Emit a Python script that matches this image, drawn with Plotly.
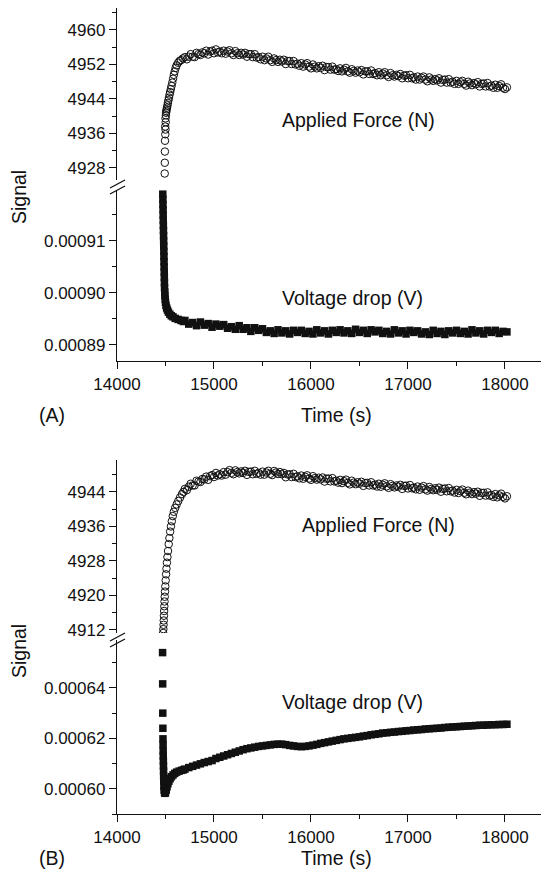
import plotly.graph_objects as go

# ---------------- data ----------------
# regular sampling after the initial transient (s): force every 20 s, voltage every 40 s
force_tail_time = [14700, 14720, 14740, 14760, 14780, 14800, 14820, 14840, 14860, 14880,
                   14900, 14920, 14940, 14960, 14980, 15000, 15020, 15040, 15060, 15080,
                   15100, 15120, 15140, 15160, 15180, 15200, 15220, 15240, 15260, 15280,
                   15300, 15320, 15340, 15360, 15380, 15400, 15420, 15440, 15460, 15480,
                   15500, 15520, 15540, 15560, 15580, 15600, 15620, 15640, 15660, 15680,
                   15700, 15720, 15740, 15760, 15780, 15800, 15820, 15840, 15860, 15880,
                   15900, 15920, 15940, 15960, 15980, 16000, 16020, 16040, 16060, 16080,
                   16100, 16120, 16140, 16160, 16180, 16200, 16220, 16240, 16260, 16280,
                   16300, 16320, 16340, 16360, 16380, 16400, 16420, 16440, 16460, 16480,
                   16500, 16520, 16540, 16560, 16580, 16600, 16620, 16640, 16660, 16680,
                   16700, 16720, 16740, 16760, 16780, 16800, 16820, 16840, 16860, 16880,
                   16900, 16920, 16940, 16960, 16980, 17000, 17020, 17040, 17060, 17080,
                   17100, 17120, 17140, 17160, 17180, 17200, 17220, 17240, 17260, 17280,
                   17300, 17320, 17340, 17360, 17380, 17400, 17420, 17440, 17460, 17480,
                   17500, 17520, 17540, 17560, 17580, 17600, 17620, 17640, 17660, 17680,
                   17700, 17720, 17740, 17760, 17780, 17800, 17820, 17840, 17860, 17880,
                   17900, 17920, 17940, 17960, 17980, 18000, 18020]
volt_tail_time = [14700, 14740, 14780, 14820, 14860, 14900, 14940, 14980, 15020, 15060,
                  15100, 15140, 15180, 15220, 15260, 15300, 15340, 15380, 15420, 15460,
                  15500, 15540, 15580, 15620, 15660, 15700, 15740, 15780, 15820, 15860,
                  15900, 15940, 15980, 16020, 16060, 16100, 16140, 16180, 16220, 16260,
                  16300, 16340, 16380, 16420, 16460, 16500, 16540, 16580, 16620, 16660,
                  16700, 16740, 16780, 16820, 16860, 16900, 16940, 16980, 17020, 17060,
                  17100, 17140, 17180, 17220, 17260, 17300, 17340, 17380, 17420, 17460,
                  17500, 17540, 17580, 17620, 17660, 17700, 17740, 17780, 17820, 17860,
                  17900, 17940, 17980, 18020]

# ---- Panel A: applied force (N) ----
force_a_start_t = [14492, 14493, 14494, 14495, 14498, 14500, 14497, 14502, 14500, 14504, 14506, 14509,
                   14512, 14516, 14520, 14525, 14530, 14536, 14542, 14548, 14555, 14562, 14570, 14578,
                   14586, 14595, 14605, 14615, 14630, 14645, 14660, 14680]
force_a_start = [4926.7, 4929.2, 4931.8, 4934.3, 4935.8, 4936.9, 4937.6, 4938.6, 4939.5, 4940.2, 4940.8, 4941.2,
                 4941.6, 4942.0, 4942.5, 4943.1, 4943.7, 4944.3, 4945.0, 4945.6, 4946.3, 4947.0, 4947.8, 4948.7,
                 4949.6, 4950.4, 4951.2, 4951.8, 4952.4, 4952.8, 4953.0, 4953.4]
force_a_tail = [4953.7, 4953.2, 4953.8, 4954.4, 4953.8, 4953.7, 4954.7, 4954.4, 4954.2, 4954.8,
                4954.6, 4955.2, 4954.3, 4955.0, 4955.2, 4954.6, 4955.5, 4954.8, 4955.0, 4954.6,
                4955.2, 4954.5, 4955.0, 4955.3, 4954.6, 4954.2, 4955.1, 4954.6, 4954.2, 4954.7,
                4954.3, 4954.7, 4953.8, 4954.4, 4954.4, 4953.7, 4954.4, 4953.6, 4953.7, 4953.2,
                4953.8, 4953.0, 4953.4, 4953.8, 4953.0, 4952.6, 4953.4, 4953.0, 4952.6, 4953.1,
                4952.7, 4953.1, 4952.1, 4952.8, 4952.8, 4952.1, 4952.8, 4952.0, 4952.2, 4951.7,
                4952.3, 4951.5, 4952.0, 4952.3, 4951.5, 4951.1, 4952.0, 4951.5, 4951.1, 4951.6,
                4951.2, 4951.7, 4950.7, 4951.4, 4951.4, 4950.8, 4951.5, 4950.8, 4950.9, 4950.5,
                4951.1, 4950.4, 4950.8, 4951.2, 4950.4, 4950.1, 4950.9, 4950.5, 4950.1, 4950.6,
                4950.2, 4950.7, 4949.7, 4950.4, 4950.4, 4949.8, 4950.6, 4949.8, 4950.0, 4949.5,
                4950.2, 4949.5, 4949.9, 4950.2, 4949.5, 4949.1, 4950.0, 4949.5, 4949.2, 4949.6,
                4949.3, 4949.8, 4948.8, 4949.4, 4949.5, 4948.8, 4949.6, 4948.8, 4949.0, 4948.5,
                4949.2, 4948.5, 4948.9, 4949.2, 4948.5, 4948.1, 4949.0, 4948.5, 4948.2, 4948.6,
                4948.3, 4948.8, 4947.8, 4948.4, 4948.5, 4947.8, 4948.6, 4947.8, 4948.0, 4947.5,
                4948.2, 4947.5, 4947.9, 4948.2, 4947.5, 4947.1, 4948.0, 4947.6, 4947.2, 4947.7,
                4947.4, 4947.9, 4946.9, 4947.5, 4947.6, 4946.9, 4947.7, 4946.9, 4947.1, 4946.6,
                4947.3, 4946.6, 4947.0, 4947.4, 4946.6, 4946.3, 4946.7]

# ---- Panel A: voltage drop (V) ----
volt_a_start_t = [14472, 14473, 14474, 14475, 14476, 14477, 14478, 14479, 14480, 14481, 14482, 14483,
                  14484, 14485, 14486, 14487, 14488, 14489, 14490, 14492, 14494, 14497, 14500, 14505,
                  14512, 14520, 14530, 14545, 14560, 14577, 14600, 14630, 14660, 14685]
volt_a_start = [0.0009190, 0.0009180, 0.0009170, 0.0009160, 0.0009150, 0.0009140, 0.0009130, 0.0009120,
                0.0009110, 0.0009100, 0.0009090, 0.0009080, 0.0009070, 0.0009060, 0.0009050, 0.0009040,
                0.0009030, 0.0009020, 0.0009010, 0.0009002, 0.0008995, 0.0008988, 0.0008982, 0.0008976,
                0.0008971, 0.0008967, 0.0008963, 0.0008959, 0.0008956, 0.0008954, 0.0008951, 0.0008949,
                0.0008947, 0.0008945]
volt_a_tail = [0.0008947, 0.0008940, 0.0008943, 0.0008937, 0.0008944, 0.0008938, 0.0008941, 0.0008934, 0.0008940, 0.0008936,
               0.0008939, 0.0008932, 0.0008935, 0.0008930, 0.0008937, 0.0008930, 0.0008933, 0.0008926, 0.0008933, 0.0008928,
               0.0008931, 0.0008924, 0.0008927, 0.0008922, 0.0008929, 0.0008923, 0.0008927, 0.0008921, 0.0008928, 0.0008924,
               0.0008928, 0.0008922, 0.0008926, 0.0008921, 0.0008929, 0.0008923, 0.0008927, 0.0008921, 0.0008928, 0.0008924,
               0.0008929, 0.0008923, 0.0008927, 0.0008922, 0.0008930, 0.0008924, 0.0008928, 0.0008922, 0.0008929, 0.0008925,
               0.0008928, 0.0008922, 0.0008926, 0.0008921, 0.0008929, 0.0008923, 0.0008927, 0.0008921, 0.0008928, 0.0008924,
               0.0008927, 0.0008921, 0.0008925, 0.0008920, 0.0008928, 0.0008922, 0.0008926, 0.0008920, 0.0008927, 0.0008923,
               0.0008928, 0.0008922, 0.0008926, 0.0008921, 0.0008929, 0.0008923, 0.0008927, 0.0008921, 0.0008928, 0.0008924,
               0.0008928, 0.0008922, 0.0008926, 0.0008925]

# ---- Panel B: applied force (N) ----
force_b_start_t = [14476, 14478, 14480, 14482, 14484, 14486, 14488, 14490, 14492, 14495, 14498, 14502,
                   14506, 14510, 14515, 14520, 14526, 14533, 14540, 14548, 14556, 14565, 14575, 14586,
                   14600, 14615, 14632, 14650, 14670, 14685]
force_b_start = [4911.3, 4912.2, 4913.2, 4914.2, 4915.3, 4916.4, 4917.5, 4918.6, 4919.7, 4920.9, 4922.1, 4923.5,
                 4924.9, 4926.2, 4927.6, 4928.9, 4930.3, 4931.9, 4933.3, 4934.8, 4936.0, 4937.2, 4938.4, 4939.4,
                 4940.3, 4941.1, 4941.9, 4942.7, 4943.5, 4944.0]
force_b_tail = [4944.7, 4944.4, 4945.2, 4945.9, 4945.5, 4945.5, 4946.6, 4946.4, 4946.3, 4947.0,
                4946.9, 4947.55, 4946.8, 4947.65, 4947.9, 4947.45, 4948.4, 4947.8, 4948.1, 4947.8,
                4948.6, 4948.0, 4948.6, 4949.05, 4948.4, 4948.1, 4949.0, 4948.6, 4948.3, 4948.75,
                4948.4, 4948.9, 4947.95, 4948.65, 4948.7, 4948.1, 4948.9, 4948.2, 4948.4, 4948.0,
                4948.7, 4948.0, 4948.5, 4948.9, 4948.2, 4947.9, 4948.85, 4948.5, 4948.15, 4948.6,
                4948.1, 4948.4, 4947.4, 4948.05, 4948.1, 4947.45, 4948.2, 4947.45, 4947.6, 4947.15,
                4947.8, 4947.05, 4947.5, 4947.85, 4947.1, 4946.8, 4947.65, 4947.2, 4946.85, 4947.3,
                4946.9, 4947.35, 4946.4, 4947.05, 4947.1, 4946.45, 4947.2, 4946.45, 4946.6, 4946.15,
                4946.8, 4946.05, 4946.5, 4946.85, 4946.1, 4945.75, 4946.6, 4946.15, 4945.8, 4946.25,
                4945.9, 4946.35, 4945.4, 4946.05, 4946.1, 4945.5, 4946.25, 4945.5, 4945.7, 4945.25,
                4945.9, 4945.2, 4945.65, 4946.0, 4945.3, 4944.95, 4945.8, 4945.4, 4945.05, 4945.5,
                4945.2, 4945.65, 4944.7, 4945.4, 4945.45, 4944.8, 4945.6, 4944.85, 4945.0, 4944.6,
                4945.25, 4944.5, 4945.0, 4945.35, 4944.6, 4944.3, 4945.15, 4944.7, 4944.4, 4944.85,
                4944.5, 4945.0, 4944.05, 4944.7, 4944.8, 4944.15, 4944.9, 4944.15, 4944.3, 4943.85,
                4944.5, 4943.75, 4944.2, 4944.55, 4943.8, 4943.45, 4944.3, 4943.85, 4943.5, 4943.95,
                4943.6, 4944.05, 4943.1, 4943.75, 4943.8, 4943.15, 4943.9, 4943.15, 4943.3, 4942.85,
                4943.5, 4942.75, 4943.2, 4943.6, 4942.85, 4942.5, 4943.0]

# ---- Panel B: voltage drop (V) ----
volt_b_start_t = [14470, 14471, 14472, 14473, 14474, 14475, 14476, 14477, 14478, 14479, 14480, 14481,
                  14482, 14484, 14486, 14490, 14495, 14500, 14508, 14516, 14525, 14535, 14548, 14562,
                  14578, 14595, 14615, 14640, 14665, 14685]
volt_b_start = [0.0006540, 0.0006416, 0.0006300, 0.0006240, 0.0006198, 0.0006175, 0.0006150, 0.0006130,
                0.0006110, 0.0006090, 0.0006070, 0.0006050, 0.0006030, 0.0006010, 0.0005995, 0.0005985,
                0.0005982, 0.0005985, 0.0005995, 0.0006008, 0.0006020, 0.0006030, 0.0006040, 0.0006048,
                0.0006055, 0.0006061, 0.0006066, 0.0006070, 0.0006073, 0.0006075]
volt_b_tail = [0.0006078, 0.0006084, 0.0006089, 0.0006094, 0.0006099, 0.0006104, 0.0006108, 0.0006112,
               0.0006120, 0.0006125, 0.0006130, 0.0006135, 0.0006140, 0.0006145, 0.0006150, 0.0006155,
               0.0006159, 0.0006162, 0.0006165, 0.0006168, 0.0006170, 0.0006172, 0.0006174, 0.0006176,
               0.0006177, 0.0006177, 0.0006175, 0.0006172, 0.0006170, 0.0006168, 0.0006167, 0.0006168,
               0.0006170, 0.0006173, 0.0006176, 0.0006180, 0.0006183, 0.0006186, 0.0006189, 0.0006192,
               0.0006195, 0.0006198, 0.0006200, 0.0006202, 0.0006204, 0.0006206, 0.0006209, 0.0006211,
               0.0006214, 0.0006216, 0.0006218, 0.0006221, 0.0006222, 0.0006224, 0.0006225, 0.0006227,
               0.0006228, 0.0006230, 0.0006231, 0.0006233, 0.0006234, 0.0006235, 0.0006237, 0.0006238,
               0.0006239, 0.0006240, 0.0006241, 0.0006243, 0.0006244, 0.0006245, 0.0006246, 0.0006247,
               0.0006248, 0.0006249, 0.0006250, 0.0006251, 0.0006252, 0.0006252, 0.0006253, 0.0006254,
               0.0006254, 0.0006255, 0.0006255, 0.0006256]

x_range = [14000, 18454]
x_ticks = [14000, 15000, 16000, 17000, 18000]
y_ticks_a_force = [4928, 4936, 4944, 4952, 4960]
y_ticks_a_volt = [0.00089, 0.00090, 0.00091]
y_ticks_b_force = [4912, 4920, 4928, 4936, 4944]
y_ticks_b_volt = [0.00060, 0.00062, 0.00064]

# ---------------- figure ----------------
# the page body has an 8 px margin, so the figure is drawn offset by that margin
# (and kept short enough that the page does not scroll)
OFF = 8
W, H = 549 - OFF, 882 - 2 * OFF
FONT = "Liberation Sans, Arial, Helvetica, sans-serif"
INK = "#111111"


def px_x(p):
    return (p - OFF) / W


def px_y(p):
    return 1 - (p - OFF) / H


circle_marker = dict(symbol="circle-open", size=7.5, color=INK, line=dict(color=INK, width=1))
square_marker = dict(symbol="square", size=7.5, color=INK, line=dict(width=0))

fig = go.Figure()
fig.add_trace(go.Scatter(x=force_a_start_t + force_tail_time, y=force_a_start + force_a_tail, mode="markers",
                         marker=circle_marker, xaxis="x", yaxis="y2", name="Applied Force (N)"))
fig.add_trace(go.Scatter(x=volt_a_start_t + volt_tail_time, y=volt_a_start + volt_a_tail, mode="markers",
                         marker=square_marker, xaxis="x", yaxis="y", name="Voltage drop (V)"))
fig.add_trace(go.Scatter(x=force_b_start_t + force_tail_time, y=force_b_start + force_b_tail, mode="markers",
                         marker=circle_marker, xaxis="x2", yaxis="y4", name="Applied Force (N)"))
fig.add_trace(go.Scatter(x=volt_b_start_t + volt_tail_time, y=volt_b_start + volt_b_tail, mode="markers",
                         marker=square_marker, xaxis="x2", yaxis="y3", name="Voltage drop (V)"))

tickfont = dict(family=FONT, size=17, color=INK)
common_axis = dict(showline=True, linecolor=INK, linewidth=1.3, ticks="outside", ticklen=7, tickwidth=1.2,
                   tickcolor=INK, showgrid=False, zeroline=False, tickfont=tickfont, mirror=False,
                   automargin=False)
x_dom = [px_x(117), 1.0]


def xaxis(anchor):
    return dict(common_axis, domain=x_dom, range=x_range, anchor=anchor, tickvals=x_ticks,
                tickformat="d", minor=dict(ticks="outside", ticklen=4, tickwidth=1.2, tickcolor=INK, dtick=500,
                                           tick0=14000, showgrid=False))


def yaxis(dom_px, rng, tickvals, minor_dtick, minor_tick0, fmt, anchor):
    return dict(common_axis, domain=[px_y(dom_px[1]), px_y(dom_px[0])], range=rng, anchor=anchor,
                tickvals=tickvals, tickformat=fmt,
                minor=dict(ticks="outside", ticklen=4, tickwidth=1.2, tickcolor=INK, dtick=minor_dtick,
                           tick0=minor_tick0, showgrid=False))


fig.update_layout(
    width=W, height=H,
    margin=dict(l=0, r=0, t=0, b=0, autoexpand=False),
    paper_bgcolor="white", plot_bgcolor="white",
    showlegend=False,
    font=dict(family=FONT, color=INK),
    xaxis=xaxis("y"),
    xaxis2=xaxis("y3"),
    yaxis=yaxis([190, 361], [0.0008869, 0.0009198], y_ticks_a_volt, 0.000005, 0.00089, ".5f", "x"),
    yaxis2=yaxis([8, 180], [4925.2, 4965.1], y_ticks_a_force, 4, 4928, "d", "x"),
    yaxis3=yaxis([640, 814], [0.00059, 0.000659], y_ticks_b_volt, 0.00001, 0.0006, ".5f", "x2"),
    yaxis4=yaxis([460, 633], [4911.3, 4951.4], y_ticks_b_force, 4, 4912, "d", "x2"),
)

# broken-axis marks
shapes = []
for y_up in (180, 633):
    for off in (0, 6):
        shapes.append(dict(type="line", xref="paper", yref="paper",
                           x0=px_x(110), y0=px_y(y_up + 8 + off), x1=px_x(125), y1=px_y(y_up + off),
                           line=dict(color=INK, width=1.3)))
fig.update_layout(shapes=shapes)

big = dict(family=FONT, size=19.5, color=INK)
ann = [
    dict(text="Applied Force (N)", x=16485, y=4939.1, xref="x", yref="y2"),
    dict(text="Voltage drop (V)", x=16433, y=0.000899, xref="x", yref="y"),
    dict(text="Applied Force (N)", x=16691, y=4936.35, xref="x2", yref="y4"),
    dict(text="Voltage drop (V)", x=16433, y=0.0006345, xref="x2", yref="y3"),
    dict(text="Time (s)", x=px_x(336), y=px_y(415), xref="paper", yref="paper"),
    dict(text="Time (s)", x=px_x(336), y=px_y(858), xref="paper", yref="paper"),
    dict(text="(A)", x=px_x(52), y=px_y(415), xref="paper", yref="paper"),
    dict(text="(B)", x=px_x(52), y=px_y(858), xref="paper", yref="paper"),
    dict(text="Signal", x=px_x(19), y=px_y(197), xref="paper", yref="paper", textangle=-90),
    dict(text="Signal", x=px_x(19), y=px_y(651), xref="paper", yref="paper", textangle=-90),
]
for a in ann:
    a.update(showarrow=False, font=big, xanchor="center", yanchor="middle")
fig.update_layout(annotations=ann)

fig.write_html("out.html")
